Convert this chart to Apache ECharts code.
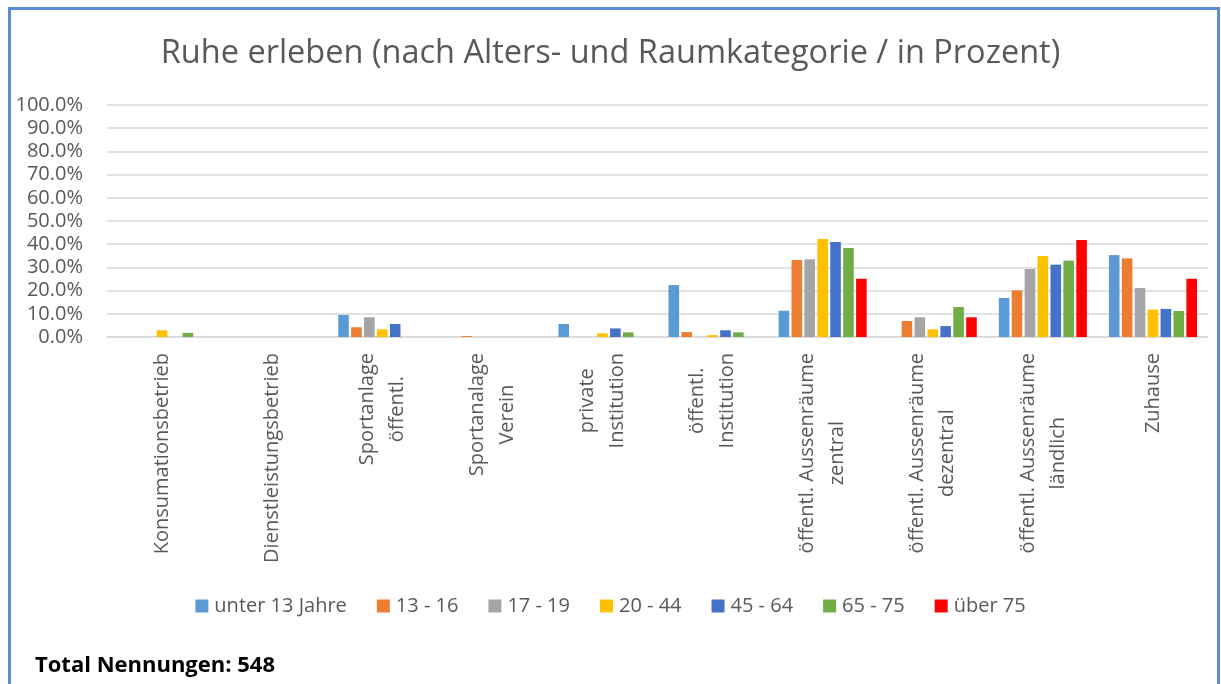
<!DOCTYPE html>
<html>
<head>
<meta charset="utf-8">
<script src="https://cdn.jsdelivr.net/npm/echarts@6/dist/echarts.min.js"></script>
<style>
  html, body { margin: 0; padding: 0; background: #fff; }
  #chart { width: 1221px; height: 684px; }
</style>
</head>
<body>
<div id="chart"></div>
<script>
// Kategorien (x-Achse)
const categories = [
  'Konsumationsbetrieb',
  'Dienstleistungsbetrieb',
  'Sportanlage\nöffentl.',
  'Sportanalage\nVerein',
  'private\nInstitution',
  'öffentl.\nInstitution',
  'öffentl. Aussenräume\nzentral',
  'öffentl. Aussenräume\ndezentral',
  'öffentl. Aussenräume\nländlich',
  'Zuhause'
];

const seriesNames = ['unter 13 Jahre', '13 - 16', '17 - 19', '20 - 44', '45 - 64', '65 - 75', 'über 75'];

// Werte in Prozent
const unter13 = [0, 0, 9.5, 0, 5.6, 22.4, 11.3, 0, 16.8, 35.3];
const age13_16 = [0, 0, 4.2, 0.4, 0, 2.1, 33.2, 6.9, 20.1, 33.9];
const age17_19 = [0, 0, 8.5, 0, 0, 0, 33.5, 8.5, 29.3, 21.1];
const age20_44 = [2.9, 0, 3.3, 0, 1.6, 0.8, 42.2, 3.3, 34.9, 11.8];
const age45_64 = [0, 0, 5.6, 0, 3.7, 2.9, 40.9, 4.7, 31.2, 12.1];
const age65_75 = [1.8, 0, 0, 0, 2.0, 2.0, 38.4, 12.9, 32.9, 11.2];
const ueber75 = [0, 0, 0, 0, 0, 0, 25.1, 8.5, 41.8, 25.1];

const yTicks = [0, 10, 20, 30, 40, 50, 60, 70, 80, 90, 100];

const colors = ['#5B9BD5', '#ED7D31', '#A5A5A5', '#FFC000', '#4472C4', '#70AD47', '#FF0000'];
const font = '"Open Sans", "Noto Sans", sans-serif';
const labelSize = 20;
const labelLineH = 30;
const labelMargin = 16;

const allData = [unter13, age13_16, age17_19, age20_44, age45_64, age65_75, ueber75];

const myChart = echarts.init(document.getElementById('chart'));

const option = {
  animation: false,
  color: colors,
  title: {
    text: 'Ruhe erleben (nach Alters- und Raumkategorie / in Prozent)',
    left: 'center',
    top: 32,
    textStyle: { fontSize: 32.5, fontWeight: 'normal', color: '#595959', fontFamily: font }
  },
  legend: {
    data: seriesNames,
    top: 591,
    left: 'center',
    icon: 'rect',
    itemWidth: 13,
    itemHeight: 13,
    itemGap: 30,
    textStyle: { fontSize: 20, color: '#595959', fontFamily: font, padding: [0, 0, 0, 1] }
  },
  grid: { left: 107, right: 13, top: 105, bottom: 347, containLabel: false },
  xAxis: {
    type: 'category',
    data: categories,
    axisLine: { lineStyle: { color: '#d9d9d9', width: 1.5 } },
    axisTick: { show: false },
    // Beschriftung wird unten als graphic gezeichnet (zentrierte Zeilen)
    axisLabel: { show: false }
  },
  yAxis: {
    type: 'value',
    min: yTicks[0],
    max: yTicks[yTicks.length - 1],
    interval: 10,
    axisLine: { show: false },
    axisTick: { show: false },
    axisLabel: {
      margin: 24,
      fontSize: 20,
      color: '#595959',
      fontFamily: font,
      formatter: v => v.toFixed(1) + '%'
    },
    splitLine: { lineStyle: { color: '#d9d9d9', width: 1.5 } }
  },
  series: seriesNames.map((name, i) => ({
    name: name,
    type: 'bar',
    data: allData[i],
    barCategoryGap: '20%',
    barGap: '22%'
  }))
};

myChart.setOption(option);

// x-Achsenbeschriftung: gedreht, mehrzeilig und zentriert wie im Original
const ctx = document.createElement('canvas').getContext('2d');
ctx.font = labelSize + 'px ' + font;
const axisY = myChart.convertToPixel({ yAxisIndex: 0 }, 0);
const graphics = [
  {
    type: 'rect',
    shape: { x: 9.5, y: 8.5, width: 1209, height: 700 },
    style: { fill: 'none', stroke: '#5B8ED6', lineWidth: 3 },
    silent: true
  },
  {
    type: 'text',
    left: 35,
    top: 655,
    style: { text: 'Total Nennungen: 548', fontSize: 22, fontWeight: 'bold', fill: '#000', fontFamily: font }
  }
];
categories.forEach((cat, i) => {
  const cx = myChart.convertToPixel({ xAxisIndex: 0 }, i);
  const lines = cat.split('\n');
  const widths = lines.map(l => ctx.measureText(l).width);
  const maxW = Math.max(...widths);
  lines.forEach((l, j) => {
    graphics.push({
      type: 'text',
      x: cx + (j - (lines.length - 1) / 2) * labelLineH,
      y: axisY + labelMargin + (maxW - widths[j]) / 2,
      rotation: Math.PI / 2,
      silent: true,
      style: {
        text: l,
        align: 'right',
        verticalAlign: 'middle',
        fontSize: labelSize,
        fontFamily: font,
        fill: '#595959'
      }
    });
  });
});
myChart.setOption({ graphic: graphics });
</script>
</body>
</html>
